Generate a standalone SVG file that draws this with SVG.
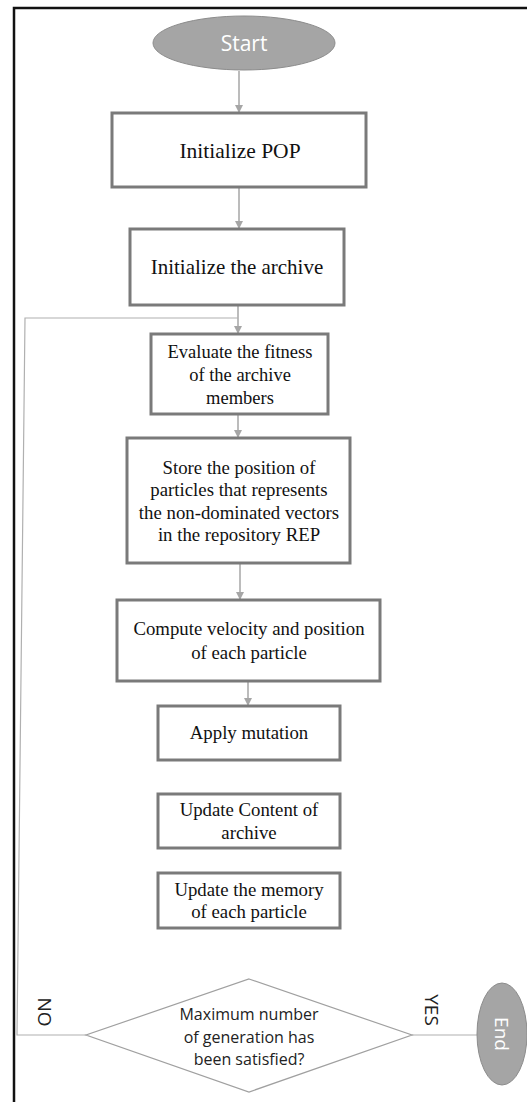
<svg xmlns="http://www.w3.org/2000/svg" width="527" height="1102" viewBox="0 0 527 1102">
<style>
.box{fill:#fff;stroke:#7a7a7a;stroke-width:3}
.term{fill:#a5a5a5;stroke:#8c8c8c;stroke-width:1}
.tt{font-family:"Liberation Serif","Times New Roman",serif;fill:#111;text-anchor:middle}
.ts{font-family:"Open Sans","Liberation Sans",sans-serif;text-anchor:middle}
.conn{stroke:#a6a6a6;stroke-width:1.5;fill:none}
.thin{stroke:#b0b0b0;stroke-width:1.2;fill:none}
</style>
<defs>
<marker id="ah" markerWidth="8" markerHeight="8" refX="7" refY="4" orient="auto" markerUnits="userSpaceOnUse">
<path d="M0,0 L8,4 L0,8 z" fill="#a6a6a6"/>
</marker>
</defs>
<rect x="0" y="0" width="527" height="1102" fill="#fff"/>
<path d="M14,1102 V8 H527" fill="none" stroke="#111" stroke-width="2.5"/>
<g id="connectors">
<line class="conn" x1="239" y1="71" x2="239" y2="112" marker-end="url(#ah)"/>
<line class="conn" x1="239" y1="188" x2="239" y2="228" marker-end="url(#ah)"/>
<line class="conn" x1="238" y1="306" x2="238" y2="333" marker-end="url(#ah)"/>
<line class="conn" x1="238" y1="415" x2="238" y2="437" marker-end="url(#ah)"/>
<line class="conn" x1="240" y1="564" x2="240" y2="599" marker-end="url(#ah)"/>
<line class="conn" x1="248" y1="682" x2="248" y2="705" marker-end="url(#ah)"/>
<polyline class="thin" points="238,318 25,318 17,1035 86,1035"/>
<line class="thin" x1="412" y1="1035" x2="477" y2="1035"/>
</g>
<g id="start">
<ellipse class="term" cx="244" cy="43" rx="91" ry="27"/>
<text class="ts" x="244" y="51" font-size="21" fill="#fff">Start</text>
</g>
<g id="init-pop">
<rect class="box" x="112" y="113" width="254" height="74"/>
<text class="tt" x="240" y="158" font-size="21.5">Initialize POP</text>
</g>
<g id="init-archive">
<rect class="box" x="130" y="229" width="214" height="76"/>
<text class="tt" x="237" y="274" font-size="21">Initialize the archive</text>
</g>
<g id="evaluate">
<rect class="box" x="151" y="334" width="177" height="80"/>
<text class="tt" font-size="18.5"><tspan x="240" y="358">Evaluate the fitness</tspan><tspan x="240" y="381">of the archive</tspan><tspan x="240" y="404">members</tspan></text>
</g>
<g id="store">
<rect class="box" x="127" y="438" width="223" height="125"/>
<text class="tt" font-size="18.8"><tspan x="239" y="474">Store the position of</tspan><tspan x="239" y="496">particles that represents</tspan><tspan x="239" y="519">the non-dominated vectors</tspan><tspan x="239" y="541">in the repository REP</tspan></text>
</g>
<g id="compute">
<rect class="box" x="117" y="600" width="263" height="81"/>
<text class="tt" font-size="18.8"><tspan x="249" y="635">Compute velocity and position</tspan><tspan x="249" y="659">of each particle</tspan></text>
</g>
<g id="mutation">
<rect class="box" x="158" y="706" width="182" height="54"/>
<text class="tt" x="249" y="739" font-size="18.8">Apply mutation</text>
</g>
<g id="update-content">
<rect class="box" x="158" y="794" width="182" height="54"/>
<text class="tt" font-size="18.8"><tspan x="249" y="816">Update Content of</tspan><tspan x="249" y="839">archive</tspan></text>
</g>
<g id="update-memory">
<rect class="box" x="158" y="873" width="182" height="55"/>
<text class="tt" font-size="18.8"><tspan x="249" y="896">Update the memory</tspan><tspan x="249" y="918">of each particle</tspan></text>
</g>
<g id="decision">
<polygon points="249,979 412,1035 249,1092 86,1035" fill="#fff" stroke="#a0a0a0" stroke-width="1.2"/>
<text class="ts" font-size="16" fill="#222"><tspan x="249" y="1020">Maximum number</tspan><tspan x="249" y="1043">of generation has</tspan><tspan x="249" y="1065">been satisfied?</tspan></text>
<text class="ts" font-size="19" fill="#222" transform="translate(45,1012) rotate(90)" y="7">NO</text>
<text class="ts" font-size="19" fill="#222" transform="translate(432,1010) rotate(90)" y="7">YES</text>
</g>
<g id="end">
<ellipse class="term" cx="502" cy="1034" rx="25" ry="51"/>
<text class="ts" font-size="19" fill="#fff" transform="translate(502,1034) rotate(90)" y="7">End</text>
</g>
</svg>
